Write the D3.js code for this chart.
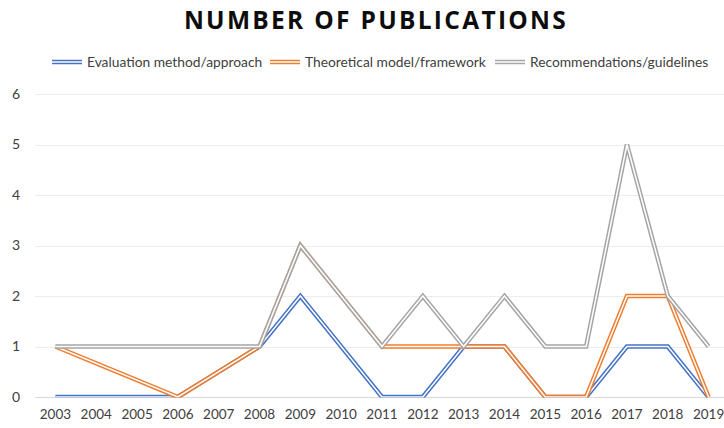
<!DOCTYPE html>
<html>
<head>
<meta charset="utf-8">
<script src="https://cdn.jsdelivr.net/npm/d3@7"></script>
<style>
  html, body { margin: 0; padding: 0; background: #fff; }
  svg { display: block; }
</style>
</head>
<body>
<svg id="chart" width="724" height="428"></svg>
<script>
// Publications per year, by contribution type (null = no entry for that year)
const years = ["2003","2004","2005","2006","2007","2008","2009","2010","2011",
               "2012","2013","2014","2015","2016","2017","2018","2019"];
const evaluation      = [0, null, null, 0, null, 1, 2, null, 0, 0, 1, 1, 0, 0, 1, 1, 0];
const theoretical     = [1, null, null, 0, null, 1, 3, null, 1, 1, 1, 1, 0, 0, 2, 2, 0];
const recommendations = [1, null, null, 1, null, 1, 3, null, 1, 2, 1, 2, 1, 1, 5, 2, 1];
const seriesNames  = ["Evaluation method/approach", "Theoretical model/framework", "Recommendations/guidelines"];
const yTicks = [0, 1, 2, 3, 4, 5, 6];

const series = [
  { name: seriesNames[0], values: evaluation,      color: "#4472C4" },
  { name: seriesNames[1], values: theoretical,     color: "#ED7D31" },
  { name: seriesNames[2], values: recommendations, color: "#A5A5A5" }
];

const svg = d3.select("#chart");
const font = "Lato, 'Open Sans', sans-serif";
const plot = { left: 35, right: 729, top: 94, bottom: 397 };

const x = d3.scaleBand().domain(years).range([plot.left, plot.right]);
const y = d3.scaleLinear().domain([0, 6]).range([plot.bottom, plot.top]);
const cx = d => x(d) + x.bandwidth() / 2;

// Plot-area clip so strokes stop at the value axis
svg.append("defs").append("clipPath").attr("id", "plot-clip")
  .append("rect")
  .attr("x", plot.left).attr("y", 0)
  .attr("width", 724 - plot.left).attr("height", y(0) + 0.5);

// Title
svg.append("text")
  .attr("x", 376).attr("y", 29)
  .attr("text-anchor", "middle")
  .attr("font-family", "'Open Sans', sans-serif")
  .attr("font-weight", 700)
  .attr("font-size", 24.5)
  .attr("letter-spacing", 2.3)
  .attr("fill", "#0d0d0d")
  .text("NUMBER OF PUBLICATIONS");

// Horizontal gridlines
svg.append("g")
  .selectAll("line")
  .data(yTicks)
  .join("line")
  .attr("x1", plot.left).attr("x2", 724)
  .attr("y1", d => Math.round(y(d)) + 0.5)
  .attr("y2", d => Math.round(y(d)) + 0.5)
  .attr("stroke", d => d === 0 ? "#d9d9d9" : "#ececec")
  .attr("stroke-width", 1);

// Y axis labels
const yAxis = d3.axisLeft(y).tickValues(yTicks).tickFormat(d3.format("d"))
  .tickSize(0).tickPadding(0);
svg.append("g")
  .attr("transform", `translate(16,0)`)
  .call(yAxis)
  .call(g => g.select(".domain").remove())
  .call(g => g.selectAll("text")
    .attr("font-family", font).attr("font-size", 14).attr("fill", "#404040")
    .attr("text-anchor", "middle"));

// X axis labels
const xAxis = d3.axisBottom(x).tickSize(0).tickPadding(0);
svg.append("g")
  .attr("transform", `translate(0,${plot.bottom + 12})`)
  .call(xAxis)
  .call(g => g.select(".domain").remove())
  .call(g => g.selectAll("text")
    .attr("font-family", font).attr("font-size", 13.5).attr("fill", "#404040"));

// Double-stroke lines: coloured outer stroke with a white core
const line = d3.line()
  .x(d => cx(d.year))
  .y(d => y(d.value));

const lines = svg.append("g").attr("clip-path", "url(#plot-clip)");
series.forEach(s => {
  const pts = years.map((yr, i) => ({ year: yr, value: s.values[i] }))
                   .filter(p => p.value !== null);
  const g = lines.append("g");
  g.append("path")
    .attr("d", line(pts))
    .attr("fill", "none")
    .attr("stroke", s.color)
    .attr("stroke-width", 4.5)
    .attr("stroke-linejoin", "miter");
  g.append("path")
    .attr("d", line(pts))
    .attr("fill", "none")
    .attr("stroke", "#fff")
    .attr("stroke-width", 1.5)
    .attr("stroke-linejoin", "miter");
});

// Legend
const legendX = [52, 270, 495];
const legend = svg.append("g");
series.forEach((s, i) => {
  const g = legend.append("g").attr("transform", `translate(${legendX[i]},62)`);
  g.append("line").attr("x1", 0).attr("x2", 30).attr("y1", 0).attr("y2", 0)
    .attr("stroke", s.color).attr("stroke-width", 4.5);
  g.append("line").attr("x1", 0).attr("x2", 30).attr("y1", 0).attr("y2", 0)
    .attr("stroke", "#fff").attr("stroke-width", 1.5);
  g.append("text")
    .attr("x", 35).attr("y", 0).attr("dy", "0.35em")
    .attr("font-family", font).attr("font-size", 13.8).attr("fill", "#404040")
    .text(s.name);
});
</script>
</body>
</html>
